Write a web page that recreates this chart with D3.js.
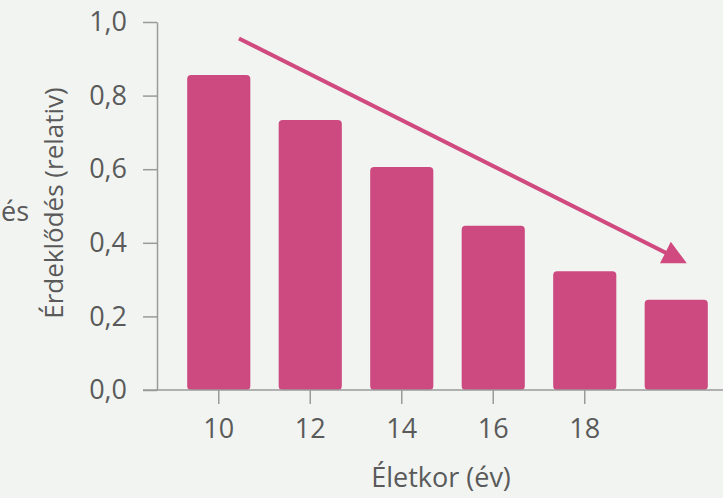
<!DOCTYPE html>
<html><head><meta charset="utf-8">
<script src="https://cdn.jsdelivr.net/npm/d3@7"></script>
<style>
html,body{margin:0;padding:0;background:#f1f4f1;}
svg{display:block;}
text{font-family:"Open Sans",Lato,sans-serif;}
</style></head>
<body>
<script>
const ages = [10, 12, 14, 16, 18, 20];
const interest = [0.856, 0.734, 0.606, 0.446, 0.323, 0.245];
const xTickLabels = ["10", "12", "14", "16", "18"];
const yTicks = [0, 0.2, 0.4, 0.6, 0.8, 1.0];
const xTitle = "Életkor (év)";
const yTitle = "Érdeklődés (relativ)";
const sideText = "és";

const W = 723, H = 498;
const barColor = "#cd4a81", arrowColor = "#d04a80", axisColor = "#9a9a9a", textColor = "#5a5a5a";

const svg = d3.select("body").append("svg").attr("width", W).attr("height", H);
svg.append("rect").attr("width", W).attr("height", H).attr("fill", "#f1f4f1");

const y = d3.scaleLinear().domain([0, 1]).range([390, 22]);
const x = d3.scaleBand().domain(ages).range([157, 738]).paddingInner(0.31).paddingOuter(0.33);
const axisX = 157;

// bars
svg.append("g").selectAll("rect").data(ages).join("rect")
  .attr("x", d => x(d))
  .attr("y", (d, i) => y(interest[i]))
  .attr("width", x.bandwidth())
  .attr("height", (d, i) => y(0) - y(interest[i]))
  .attr("rx", 4)
  .attr("fill", barColor);

// y axis
const yAxis = svg.append("g").attr("transform", `translate(${axisX},0)`)
  .call(d3.axisLeft(y).tickValues(yTicks).tickSize(14).tickSizeOuter(0).tickPadding(16)
    .tickFormat(d => d.toFixed(1).replace(".", ",")));
yAxis.select(".domain").attr("stroke", axisColor).attr("stroke-width", 1.5);
yAxis.selectAll(".tick line").attr("stroke", axisColor).attr("stroke-width", 1.5);
yAxis.selectAll(".tick text").attr("fill", textColor).attr("font-size", 27).attr("font-family", "Open Sans");

// x axis
const xAxis = svg.append("g").attr("transform", `translate(0,${y(0)})`)
  .call(d3.axisBottom(x).tickValues(ages.slice(0, xTickLabels.length)).tickSize(14).tickSizeOuter(0).tickPadding(15)
    .tickFormat((d, i) => xTickLabels[i]));
xAxis.select(".domain").remove();
xAxis.selectAll(".tick line").attr("stroke", axisColor).attr("stroke-width", 1.5);
xAxis.selectAll(".tick text").attr("fill", textColor).attr("font-size", 27).attr("font-family", "Open Sans");
svg.append("line").attr("x1", axisX - 14).attr("x2", W).attr("y1", y(0)).attr("y2", y(0))
  .attr("stroke", axisColor).attr("stroke-width", 1.5);

// titles
svg.append("text").attr("x", 441).attr("y", 487).attr("text-anchor", "middle")
  .attr("font-size", 27).attr("fill", textColor).text(xTitle);
svg.append("text").attr("transform", "translate(63,203) rotate(-90)").attr("text-anchor", "middle")
  .attr("font-size", 26).attr("fill", textColor).text(yTitle);
svg.append("text").attr("x", 29).attr("y", 221).attr("text-anchor", "end")
  .attr("font-size", 27).attr("fill", textColor).text(sideText);

// trend arrow
const defs = svg.append("defs");
defs.append("marker").attr("id", "ah").attr("viewBox", "0 0 10 10").attr("refX", 8).attr("refY", 5)
  .attr("markerWidth", 7).attr("markerHeight", 6).attr("markerUnits", "strokeWidth").attr("orient", "auto")
  .append("path").attr("d", "M0,0 L10,5 L0,10 Z").attr("fill", arrowColor);
const ax1 = x(ages[0]) + x.bandwidth() * 0.82, ay1 = y(0.955);
const ax2 = x(ages[5]) + x.bandwidth() * 0.6, ay2 = y(0.35);
svg.append("line").attr("x1", ax1).attr("y1", ay1).attr("x2", ax2).attr("y2", ay2)
  .attr("stroke", arrowColor).attr("stroke-width", 4).attr("marker-end", "url(#ah)");
</script>
</body></html>
